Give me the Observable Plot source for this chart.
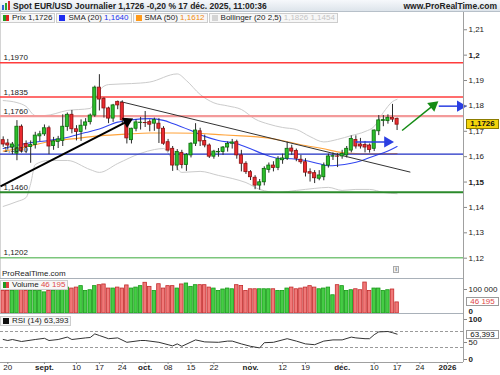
<!DOCTYPE html>
<html lang="fr"><head><meta charset="utf-8">
<script src="https://cdn.jsdelivr.net/npm/d3@7"></script>
<script src="https://cdn.jsdelivr.net/npm/@observablehq/plot@0.6"></script>
<style>
html,body{margin:0;padding:0;background:#fff}
body{width:500px;height:375px;overflow:hidden;font-family:"Liberation Sans",Arial,sans-serif;color:#222}
#root{position:relative;width:500px;height:375px;overflow:hidden}
#hdr{position:absolute;left:0;top:0;width:500px;height:12px;background:linear-gradient(#f6f8fb,#dde4eb);border-bottom:1px solid #b7c0c9;font-size:8.5px;font-weight:bold;line-height:12px;box-sizing:border-box}
#hdr .t{position:absolute;left:13px;top:0}
#hdr .r{position:absolute;right:3px;top:0}
#legend{position:absolute;left:0;top:13px;display:flex;gap:1px}
.lg{height:10px;box-sizing:border-box;border:1px solid #cdcdcd;background:#f7f7f7;font-size:8px;line-height:8px;padding:0 2px;white-space:nowrap;display:flex;align-items:center;gap:3px}
.sq{display:inline-block;width:6px;height:6px}
.panel{position:absolute;left:0}
</style></head><body><div id="root"></div>
<script>
// ---------------- DATA ----------------
const firstDate = "2025-08-19";
const open = [
 1.1665,1.1652,1.1636,1.1612,1.1718,1.1650,1.1638,1.1646,1.1680,1.1688,
 1.1712,1.1642,1.1658,1.1662,1.1717,1.1765,1.1708,1.1697,1.1722,1.1736,
 1.1762,1.1872,1.1828,1.1790,1.1750,1.1816,1.1812,1.1743,1.1665,1.1710,
 1.1733,1.1733,1.1736,1.1730,1.1730,1.1710,1.1657,1.1631,1.1565,1.1615,
 1.1567,1.1605,1.1651,1.1700,1.1662,1.1644,1.1600,1.1617,1.1618,1.1636,
 1.1651,1.1657,1.1605,1.1572,1.1539,1.1517,1.1486,1.1499,1.1548,1.1565,
 1.1556,1.1586,1.1592,1.1632,1.1622,1.1588,1.1578,1.1539,1.1535,1.1513,
 1.1519,1.1565,1.1600,1.1601,1.1601,1.1605,1.1624,1.1666,1.1648,1.1646,
 1.1644,1.1631,1.1700,1.1741,1.1740,1.1753,1.1749];
const high = [
 1.1678,1.1668,1.1656,1.1742,1.1725,1.1662,1.1662,1.1696,1.1700,1.1725,
 1.1720,1.1676,1.1680,1.1765,1.1772,1.1782,1.1722,1.1745,1.1750,1.1768,
 1.1878,1.1923,1.1832,1.1795,1.1806,1.1819,1.1820,1.1750,1.1712,1.1745,
 1.1755,1.1778,1.1745,1.1752,1.1750,1.1718,1.1668,1.1640,1.1628,1.1625,
 1.1612,1.1655,1.1730,1.1712,1.1685,1.1650,1.1625,1.1632,1.1640,1.1658,
 1.1668,1.1665,1.1625,1.1580,1.1545,1.1525,1.1510,1.1560,1.1575,1.1580,
 1.1600,1.1610,1.1657,1.1645,1.1630,1.1605,1.1592,1.1552,1.1545,1.1545,
 1.1575,1.1610,1.1615,1.1612,1.1625,1.1640,1.1682,1.1682,1.1672,1.1660,
 1.1650,1.1705,1.1762,1.1762,1.1765,1.1806,1.1752];
const low = [
 1.1637,1.1626,1.1608,1.1584,1.1614,1.1612,1.1574,1.1630,1.1660,1.1680,
 1.1608,1.1625,1.1632,1.1640,1.1700,1.1690,1.1662,1.1660,1.1705,1.1725,
 1.1755,1.1780,1.1752,1.1730,1.1735,1.1785,1.1730,1.1650,1.1650,1.1698,
 1.1705,1.1715,1.1698,1.1700,1.1652,1.1645,1.1618,1.1542,1.1545,1.1552,
 1.1542,1.1595,1.1640,1.1640,1.1635,1.1593,1.1590,1.1598,1.1605,1.1618,
 1.1630,1.1590,1.1540,1.1530,1.1506,1.1470,1.1468,1.1485,1.1535,1.1540,
 1.1545,1.1570,1.1585,1.1605,1.1580,1.1570,1.1520,1.1500,1.1494,1.1505,
 1.1505,1.1555,1.1585,1.1557,1.1590,1.1595,1.1615,1.1630,1.1630,1.1615,
 1.1614,1.1620,1.1683,1.1718,1.1728,1.1735,1.1703];
const close = [
 1.1648,1.1644,1.1648,1.1718,1.1622,1.1638,1.1646,1.1683,1.1688,1.1712,
 1.1640,1.1660,1.1668,1.1718,1.1765,1.1708,1.1697,1.1722,1.1735,1.1762,
 1.1872,1.1825,1.1790,1.1750,1.1802,1.1802,1.1743,1.1672,1.1710,1.1735,
 1.1734,1.1732,1.1726,1.1744,1.1710,1.1651,1.1624,1.1565,1.1618,1.1567,
 1.1607,1.1651,1.1703,1.1660,1.1644,1.1600,1.1620,1.1619,1.1636,1.1650,
 1.1656,1.1605,1.1572,1.1539,1.1519,1.1486,1.1499,1.1552,1.1565,1.1555,
 1.1590,1.1593,1.1631,1.1620,1.1592,1.1578,1.1537,1.1533,1.1515,1.1526,
 1.1565,1.1601,1.1602,1.1600,1.1611,1.1631,1.1670,1.1640,1.1640,1.1636,
 1.1626,1.1703,1.1743,1.1744,1.1753,1.1746,1.1726];
const volume = [
 94000,94000,94000,97000,97000,94000,94000,94000,94000,88000,
 94000,94000,100000,104000,108000,104000,108000,114000,94000,97000,
 114000,118000,121000,104000,104000,108000,104000,117000,104000,108000,
 114000,128000,111000,94000,122000,104000,114000,114000,104000,121000,
 125000,111000,118000,118000,118000,108000,104000,94000,100000,104000,
 101000,118000,115000,94000,101000,101000,101000,101000,101000,101000,
 94000,94000,104000,108000,101000,104000,108000,114000,108000,101000,
 104000,108000,76000,118000,114000,94000,97000,101000,97000,129000,
 94000,104000,104000,94000,97000,100000,46195];

// indicator readings (candle index -> value)
const sma20Idx = [0,5,10,13,18,21,25,28,32,35,37,41,44,47,51,54,57,60,63,66,69,71,73,76,78,81,84,86];
const sma20Val = [1.1632,1.1652,1.1664,1.1672,1.1695,1.1709,1.1736,1.1745,1.1750,1.1743,1.1731,1.1703,1.1680,1.1664,1.1651,1.1631,1.1609,1.1594,1.1592,1.1585,1.1572,1.1564,1.1566,1.1574,1.1583,1.1603,1.1622,1.1640];
const sma50Idx = [0,5,10,15,21,27,32,37,42,47,52,56,59,62,66,70,73,76,80,86];
const sma50Val = [1.1622,1.1638,1.1660,1.1670,1.1682,1.1689,1.1693,1.1693,1.1692,1.1687,1.1682,1.1677,1.1670,1.1659,1.1644,1.1631,1.1619,1.1613,1.1611,1.1612];
const bbUpIdx = [0,3,5,7,9,14,19,20,21,23,28,32,38,40,43,46,49,52,55,58,61,64,67,70,73,76,79,81,83,85,86];
const bbUpVal = [1.1821,1.1813,1.1798,1.1762,1.1762,1.1782,1.1790,1.1821,1.1861,1.1884,1.1888,1.1894,1.1926,1.1900,1.1845,1.1812,1.1800,1.1786,1.1748,1.1728,1.1715,1.1707,1.1679,1.1658,1.1668,1.1683,1.1699,1.1719,1.1774,1.1817,1.1826];
const bbLoIdx = [0,3,5,6,7,10,14,19,21,25,30,33,35,37,39,43,47,50,53,56,60,64,68,71,74,77,80,83,86];
const bbLoVal = [1.1404,1.1423,1.1439,1.1494,1.1569,1.1585,1.1585,1.1549,1.1538,1.1573,1.1613,1.1628,1.1632,1.1585,1.1538,1.1542,1.1526,1.1514,1.1498,1.1471,1.1459,1.1467,1.1475,1.1479,1.1467,1.1471,1.1471,1.1459,1.1454];
const rsiIdx = [0,1,2,4,7,9,10,12,14,15,18,19,20,21,23,25,27,30,31,34,36,37,38,39,42,44,47,49,50,52,54,56,57,59,62,64,66,68,70,72,74,76,77,79,80,81,82,84,85,86];
const rsiVal = [50,47.5,50,45,50,53,47.5,50,56,50,54,55,64,60,52,54,43,47.5,47.5,43,37,34,39,33,49,44,43,46,46,39,33,29,42,43,52,46,39,37,46,49,49,56,54,52,52,62,69,70,67,63.393];

// drawn levels and annotations
const levelValues = [1.1970, 1.1835, 1.1760, 1.1610, 1.1460, 1.1202];
const upTrend = [[-0.59, 1.1483], [27.1, 1.1739]];
const downTrend = [[25.6, 1.1817], [88.9, 1.1539]];
const blueArrowA = [[76.9, 1.1658], [83.9, 1.1658]];
const blueArrowB = [[95.1, 1.1799], [99.8, 1.1799]];
const greenArrow = [[87.1, 1.1703], [93.9, 1.1802]];

// axes
const priceTicks = [1.12,1.13,1.14,1.15,1.16,1.17,1.18,1.19,1.2,1.21];
const xTickDates = ["2025-08-20","2025-09-01","2025-09-10","2025-09-17","2025-09-24","2025-10-01","2025-10-08","2025-10-15","2025-10-22","2025-11-03","2025-11-12","2025-11-19","2025-12-01","2025-12-10","2025-12-17","2025-12-24","2026-01-01"];
const xTickLabels = ["20","sept.","10","17","24","oct.","08","15","22","nov.","12","19","déc.","10","17","24","2026"];
const headerText = "Spot EUR/USD Journalier 1,1726 -0,20 % 17 déc. 2025, 11:00:36";

// ---------------- BUILD ----------------
const FONT = "'Liberation Sans', Arial, sans-serif";
const X0 = -0.59, X1 = 100.5, Y0 = 1.1120, Y1 = 1.2168;
const PW = 463, PH = 266;
const KX = PW / (X1 - X0), KY = PH / (Y1 - Y0);
const root = document.getElementById("root");
const fr = (v, n) => v.toFixed(n).replace(".", ",");
const sp = v => Math.round(v).toString().replace(/\B(?=(\d{3})+(?!\d))/g, " ");
const pts = (idx, val) => idx.map((i, k) => ({i, v: val[k]}));
function add(html, css) { const d = document.createElement("div"); d.innerHTML = html; d.style.cssText = css; root.appendChild(d); return d; }

function tradingDays(start, n) {
  const out = []; let t = Date.parse(start + "T00:00:00Z");
  while (out.length < n) { const d = new Date(t); const w = d.getUTCDay(); if (w !== 0 && w !== 6) out.push(d.toISOString().slice(0, 10)); t += 86400000; }
  return out;
}
const cal = tradingDays(firstDate, 110);
const candles = close.map((c, i) => ({i, o: open[i], h: high[i], l: low[i], c, v: volume[i], up: c >= open[i]}));
const GREEN = "#2cbf2c", GREEN_D = "#0b6a0b", RED = "#ea2a2f", RED_D = "#8a1111";

const levelStyle = [["#ff3c3c", 1.3], ["#ff3c3c", 1.3], ["#f39a9a", 2.2], ["#1f2fc4", 1.4], ["#2b8a2b", 2], ["#7cc67c", 1.4]];
const levels = levelValues.map((v, k) => ({v, s: levelStyle[k][0], w: levelStyle[k][1]}));

const arrowDefs = [[upTrend, "#000", 2], [blueArrowA, "#2b3fe2", 1.5], [blueArrowB, "#2b3fe2", 1.5], [greenArrow, "#158c15", 1.5]];
const arrows = arrowDefs.map(([seg, col, w]) => {
  const [[i1, p1], [i2, p2]] = seg;
  const ang = Math.atan2(-(p2 - p1) * KY, (i2 - i1) * KX) * 180 / Math.PI;
  return {i1, p1, i2, p2, col, w, rot: ang + 90};
});

const style = {fontFamily: FONT, fontSize: "8px", color: "#222", background: "transparent", overflow: "visible"};
const isMajor = t => Math.abs(t * 20 - Math.round(t * 20)) < 1e-9;
const commaFmt = d => String(d).replace(".", ",");

// header
add(`<svg width="9" height="9" style="position:absolute;left:2px;top:1px"><rect x="0" y="4" width="2" height="5" fill="#2a66d6"/><rect x="3" y="2" width="2" height="7" fill="#2aa52a"/><rect x="6" y="0" width="2" height="9" fill="#d62a2a"/></svg><span class="t">${headerText}</span><span class="r">www.ProRealTime.com</span>`, "").id = "hdr";

// price panel
const priceSvg = Plot.plot({
  width: 500, height: PH, marginTop: 0, marginBottom: 0, marginLeft: 0, marginRight: 37,
  x: {domain: [X0, X1], axis: null}, y: {domain: [Y0, Y1], axis: null},
  color: {type: "identity"}, style,
  marks: [
    Plot.ruleX([X0], {stroke: "#d4d4d4"}),
    Plot.line(pts(bbUpIdx, bbUpVal), {x: "i", y: "v", stroke: "#cbcbcb", strokeWidth: 1, curve: "monotone-x"}),
    Plot.line(pts(bbLoIdx, bbLoVal), {x: "i", y: "v", stroke: "#cbcbcb", strokeWidth: 1, curve: "monotone-x"}),
    Plot.line(pts(sma50Idx, sma50Val), {x: "i", y: "v", stroke: "#ffa33a", strokeWidth: 1.1, curve: "monotone-x"}),
    Plot.line(pts(sma20Idx, sma20Val), {x: "i", y: "v", stroke: "#3347f0", strokeWidth: 1.1, curve: "monotone-x"}),
    Plot.ruleY(levels, {y: "v", stroke: "s", strokeWidth: "w"}),
    Plot.link([downTrend], {x1: d => d[0][0], y1: d => d[0][1], x2: d => d[1][0], y2: d => d[1][1], stroke: "#333", strokeWidth: 1}),
    Plot.ruleX(candles, {x: "i", y1: "l", y2: "h", stroke: "#2a2a2a", strokeWidth: 1}),
    Plot.rect(candles, {x1: d => d.i - 0.34, x2: d => d.i + 0.34, y1: d => Math.min(d.o, d.c), y2: d => Math.max(d.o, d.c),
      fill: d => d.up ? GREEN : RED, stroke: d => d.up ? GREEN_D : RED_D, strokeWidth: 0.8}),
    Plot.link(arrows, {x1: "i1", y1: "p1", x2: "i2", y2: "p2", stroke: "col", strokeWidth: "w", clip: true}),
    Plot.dot(arrows, {x: "i2", y: "p2", symbol: "triangle", r: 4.2, fill: "col", stroke: null, rotate: "rot"}),
    Plot.text(levels, {x: () => X0, y: "v", text: d => fr(d.v, 4), textAnchor: "start", dx: 3, dy: -5, fill: "#222", fontSize: 8}),
    Plot.ruleX([X1], {stroke: "#a0a0a0"}),
    Plot.axisY({ticks: priceTicks.filter(t => !isMajor(t)), anchor: "right", tickSize: 3, tickPadding: 2, tickFormat: commaFmt, fontSize: 8, label: null, stroke: "#888"}),
    Plot.axisY({ticks: priceTicks.filter(isMajor), anchor: "right", tickSize: 3, tickPadding: 2, tickFormat: commaFmt, fontSize: 8, fontWeight: "bold", label: null, stroke: "#888"})
  ]
});
priceSvg.classList.add("panel"); priceSvg.style.top = "12px"; root.appendChild(priceSvg);

// volume panel
const VH = 35, VMAX = 145833;
const volSvg = Plot.plot({
  width: 500, height: VH, marginTop: 0, marginBottom: 0, marginLeft: 0, marginRight: 37,
  x: {domain: [X0, X1], axis: null}, y: {domain: [0, VMAX], axis: null}, style,
  marks: [
    Plot.rect(candles, {x1: d => d.i - 0.38, x2: d => d.i + 0.38, y1: () => 0, y2: "v",
      fill: d => d.up ? "#45cc45" : "#f07878", stroke: d => d.up ? "#169a16" : "#c22a2a", strokeWidth: 0.8}),
    Plot.ruleX([X1], {stroke: "#a0a0a0"}),
    Plot.axisY({ticks: [100000], anchor: "right", tickSize: 3, tickPadding: 2, tickFormat: sp, fontSize: 8, label: null, stroke: "#888"}),
    Plot.axisY({ticks: [0], anchor: "right", tickSize: 0, tickPadding: 5, tickFormat: sp, fontSize: 8, fontWeight: "bold", dy: -2, label: null})
  ]
});
volSvg.classList.add("panel"); volSvg.style.top = "278px"; root.appendChild(volSvg);

// RSI panel with time axis
const tickIdx = xTickDates.map(d => cal.indexOf(d));
const labelOf = new Map(tickIdx.map((t, k) => [t, xTickLabels[k]]));
const isBoldLabel = s => !/^\d\d$/.test(s);
const rsiSvg = Plot.plot({
  width: 500, height: 62, marginTop: 0, marginBottom: 13, marginLeft: 0, marginRight: 37,
  x: {domain: [X0, X1], axis: null}, y: {domain: [-7.5, 115], axis: null}, style,
  marks: [
    Plot.ruleY([70, 30], {stroke: "#9a9a9a", strokeDasharray: "3,2"}),
    Plot.line(pts(rsiIdx, rsiVal), {x: "i", y: "v", stroke: "#333", strokeWidth: 1}),
    Plot.ruleX([X1], {stroke: "#a0a0a0"}),
    Plot.ruleY([-7.5], {stroke: "#a0a0a0"}),
    Plot.axisY({ticks: [100, 0], anchor: "right", tickSize: 3, tickPadding: 2, fontSize: 8, fontWeight: "bold", label: null, stroke: "#888"}),
    Plot.axisY({ticks: [50], anchor: "right", tickSize: 3, tickPadding: 2, fontSize: 8, dy: 3, label: null, stroke: "#888"}),
    Plot.axisX({ticks: tickIdx.filter(t => !isBoldLabel(labelOf.get(t))), tickFormat: t => labelOf.get(t), tickSize: 2, tickPadding: 0, fontSize: 8, label: null, stroke: "#888"}),
    Plot.axisX({ticks: tickIdx.filter(t => isBoldLabel(labelOf.get(t))), tickFormat: t => labelOf.get(t), tickSize: 2, tickPadding: 0, fontSize: 8, fontWeight: "bold", label: null, stroke: "#888"})
  ]
});
rsiSvg.classList.add("panel"); rsiSvg.style.top = "313px"; root.appendChild(rsiSvg);

// separators
add("", "position:absolute;left:0;top:278px;width:463px;height:1px;background:#a9b1b9");
add("", "position:absolute;left:0;top:313px;width:463px;height:1px;background:#a9b1b9");

// legend row
const last = a => a[a.length - 1];
add(`<div id="legend">
 <div class="lg"><span class="sq" style="background:linear-gradient(90deg,#1f9a1f 50%,#e02020 50%)"></span><span>Prix ${fr(last(close), 4)}</span></div>
 <div class="lg"><span class="sq" style="background:#1d2df0"></span><span>SMA (20) <span style="color:#2233ee">${fr(last(sma20Val), 4)}</span></span></div>
 <div class="lg"><span class="sq" style="background:#ff9a1a"></span><span>SMA (50) <span style="color:#f08a10">${fr(last(sma50Val), 4)}</span></span></div>
 <div class="lg"><span class="sq" style="background:#d4d4d4"></span><span>Bollinger (20 2,5) <span style="color:#c4c4c4">${fr(last(bbUpVal), 4)} ${fr(last(bbLoVal), 4)}</span></span></div>
</div>`, "position:absolute;left:0;top:0");

// lower panel legends and texts
add("ProRealTime.com", "position:absolute;left:2px;top:270px;font-size:8px;line-height:8px;color:#222");
add("i", "position:absolute;left:393px;top:266px;width:6px;height:7px;box-sizing:border-box;border:1px solid #aaa;background:#eee;color:#777;font-size:6px;line-height:5px;text-align:center;font-weight:bold");
add(`<span class="sq" style="background:linear-gradient(90deg,#1f9a1f 50%,#e04040 50%)"></span><span>Volume <span style="color:#e04848">${sp(last(volume))}</span></span>`,
  "position:absolute;left:0;top:280px;height:10px;box-sizing:border-box;border:1px solid #cdcdcd;background:#f7f7f7;font-size:8px;line-height:8px;padding:0 2px;display:flex;align-items:center;gap:3px;white-space:nowrap");
add(`<span class="sq" style="background:#111"></span><span>RSI (14) ${fr(last(rsiVal), 3)}</span>`,
  "position:absolute;left:0;top:316px;height:10px;box-sizing:border-box;border:1px solid #cdcdcd;background:#f7f7f7;font-size:8px;line-height:8px;padding:0 2px;display:flex;align-items:center;gap:3px;white-space:nowrap");

// value boxes on the right axis
add(fr(last(close), 4), "position:absolute;left:466px;top:119px;width:33px;height:10px;box-sizing:border-box;border:1px solid #8c7c00;background:#f3d40c;font-size:8px;line-height:8px;text-align:center;font-weight:bold;color:#111");
add(sp(last(volume)), "position:absolute;left:466px;top:297px;width:33px;height:9px;box-sizing:border-box;border:1px solid #9a9a9a;background:#fff;font-size:8px;line-height:7px;text-align:center;color:#e04848");
add(fr(last(rsiVal), 3), "position:absolute;left:466px;top:330px;width:33px;height:9px;box-sizing:border-box;border:1px solid #9a9a9a;background:#fff;font-size:8px;line-height:7px;text-align:center;color:#111");
</script></body></html>
